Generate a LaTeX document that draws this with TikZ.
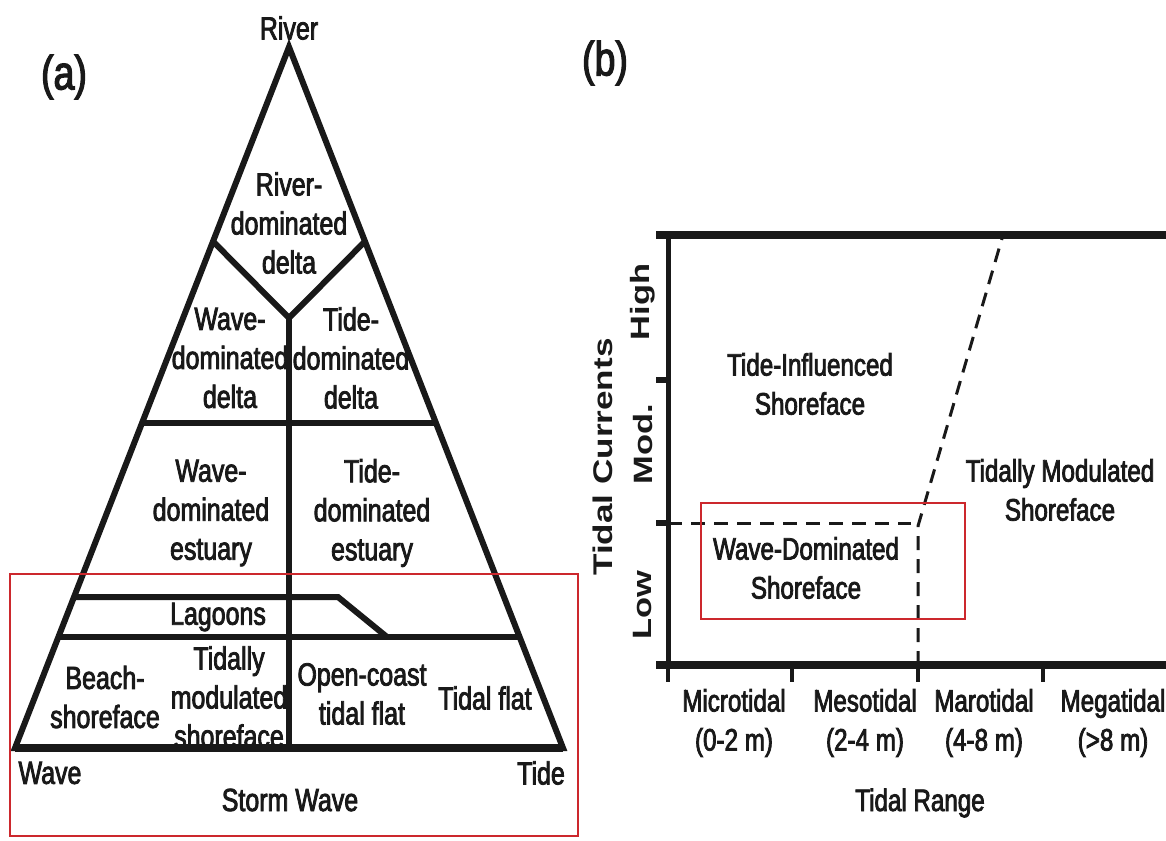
\documentclass[tikz,border=0pt]{standalone}
\usepackage{fontspec}
\setmainfont{Liberation Sans}[FakeStretch=0.78, FakeBold=2.5]
\newfontfamily\axisfont{Liberation Sans}[FakeStretch=1.3]
\definecolor{boxred}{RGB}{204,40,45}
\definecolor{ink}{RGB}{25,25,25}
\tikzset{
  tri/.style={line width=6pt, draw=ink, line join=miter},
  inner/.style={line width=6pt, draw=ink},
  redbox/.style={line width=2pt, draw=boxred},
  dashline/.style={line width=3pt, draw=ink, dash pattern=on 14pt off 9pt},
  lbl/.style={font=\fontsize{32}{39}\selectfont, text=ink, align=center, inner sep=0pt},
  blbl/.style={font=\fontsize{31}{39}\selectfont, text=ink, align=center, inner sep=0pt},
  axl/.style={font=\axisfont\bfseries\fontsize{26.5}{30}\selectfont, text=ink, rotate=90, inner sep=0pt},
  panel/.style={font=\fontsize{48}{54}\selectfont, text=ink, inner sep=0pt},
  axis/.style={line width=8pt, draw=ink},
  tick/.style={line width=5pt, draw=ink}
}
\begin{document}
\begin{tikzpicture}[x=1pt,y=-1pt]
\useasboundingbox (0,0) rectangle (1166,840);
\fill[white] (0,0) rectangle (1166,840);
% ---------- panel (a) ----------
\coordinate (A) at (289,47);
\coordinate (BL) at (15,748);
\coordinate (BR) at (563,748);
\coordinate (J) at (289,318);
\coordinate (YL) at (212.6,241);
\coordinate (YR) at (365.4,241);
\coordinate (H1L) at (141.7,423);
\coordinate (H1R) at (436.3,423);
\coordinate (LTL) at (73.8,597);
\coordinate (LTM) at (338,597);
\coordinate (LTB) at (387,637);
\coordinate (H2L) at (58.2,637);
\coordinate (H2R) at (519.8,637);
\coordinate (BM) at (289,748);
\draw[tri] (A) -- (BL) -- (BR) -- cycle;
\draw[line width=8pt, draw=ink] (BL) -- (BR);
\draw[inner] (YL) -- (J) -- (YR);
\draw[inner] (J) -- (BM);
\draw[inner] (H1L) -- (H1R);
\draw[inner, line join=miter] (LTL) -- (LTM) -- (LTB);
\draw[inner] (H2L) -- (H2R);
\node[redbox, minimum width=568pt, minimum height=262pt, anchor=north west, inner sep=0pt] (rba) at (9,573) {};
\node[panel] (la) at (64,77) {(a)};
\node[lbl] (river) at (289,28) {River};
\node[lbl] (rdd) at (289,223) {River-\\dominated\\delta};
\node[lbl] (wdd) at (230,358) {Wave-\\dominated\\delta};
\node[lbl] (tdd) at (351,358) {Tide-\\dominated\\delta};
\node[lbl] (wde) at (211,513) {Wave-\\dominated\\estuary};
\node[lbl] (tde) at (372,513) {Tide-\\dominated\\estuary};
\node[lbl] (lag) at (218,617) {Lagoons};
\node[lbl] (bch) at (105,697) {Beach-\\shoreface};
\node[lbl] (tms) at (229,697) {Tidally\\modulated\\shoreface};
\node[lbl] (oct) at (362,694) {Open-coast\\tidal flat};
\node[lbl] (tfl) at (485,698) {Tidal flat};
\node[lbl] (wave) at (50,773) {Wave};
\node[lbl] (tide) at (541,773) {Tide};
\node[lbl] (storm) at (290,800) {Storm Wave};
% ---------- panel (b) ----------
\node[panel] (lb) at (605,63) {(b)};
\coordinate (O) at (668,665);
\coordinate (TL) at (668,235);
\coordinate (TLs) at (656,235);
\coordinate (TRt) at (1170,235);
\coordinate (BLs) at (656,665);
\coordinate (BRt) at (1170,665);
\draw[axis] (TLs) -- (TRt);
\draw[axis] (BLs) -- (BRt);
\draw[line width=5pt, draw=ink] (TL) -- (O);
\foreach \yy/\nm in {380/m1,523/m2}{
  \coordinate (\nm a) at (656,\yy);
  \coordinate (\nm b) at (668,\yy);
  \draw[tick, line width=6pt] (\nm a) -- (\nm b);
}
\foreach \xx/\nm in {668/t0,792/t1,918/t2,1043/t3}{
  \coordinate (\nm a) at (\xx,665);
  \coordinate (\nm b) at (\xx,682);
  \draw[tick, line width=4pt] (\nm a) -- (\nm b);
}
\coordinate (D0) at (668,523);
\coordinate (D1) at (911,523);
\coordinate (D2) at (918,526);
\coordinate (D3) at (1003,235);
\coordinate (D4) at (918,665);
\draw[dashline] (D0) -- (D1);
\draw[dashline] (D4) -- (D2) -- (D3);
\node[redbox, minimum width=264pt, minimum height=116pt, anchor=north west, inner sep=0pt] (rbb) at (700,502) {};
\node[blbl] (tis) at (810,384) {Tide-Influenced\\Shoreface};
\node[blbl] (tmsb) at (1060,490) {Tidally Modulated\\Shoreface};
\node[blbl] (wds) at (806,568) {Wave-Dominated\\Shoreface};
\node[blbl] (micro) at (734,723) {Microtidal\\(0-2 m)};
\node[blbl] (meso) at (865,723) {Mesotidal\\(2-4 m)};
\node[blbl] (maro) at (984,723) {Marotidal\\(4-8 m)};
\node[blbl] (mega) at (1113,723) {Megatidal\\(>8 m)};
\node[blbl] (range) at (920,803) {Tidal Range};
\node[axl, font=\axisfont\bfseries\fontsize{27}{30}\selectfont] (tc) at (603,457) {Tidal Currents};
\node[axl] (high) at (643,302) {High};
\node[axl] (mod) at (643,444) {Mod.};
\node[axl] (low) at (643,605) {Low};
\end{tikzpicture}
\end{document}
